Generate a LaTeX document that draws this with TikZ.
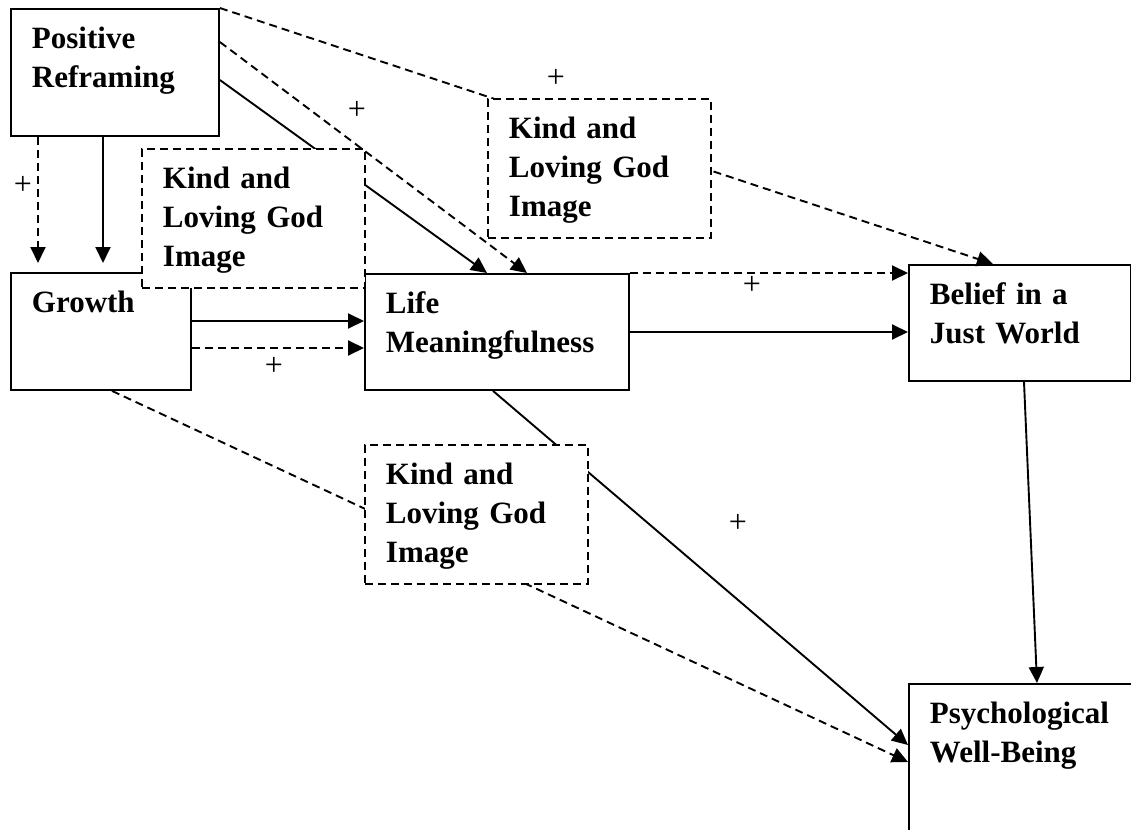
\documentclass[tikz,border=0pt]{standalone}
\usepackage{fontspec}
\setmainfont{Liberation Serif}
\usetikzlibrary{arrows.meta,positioning}

\begin{document}
\begin{tikzpicture}[x=0.5pt, y=-0.5pt, line width=0.95pt,
		box/.style 2 args={draw, anchor=north west, align=left, inner xsep=10.5pt, inner ysep=0pt,
			text width=#1, text height=20pt, text depth=#2, font=\fontsize{15.5}{19.5}\selectfont\bfseries},
		dline/.style={dash pattern=on 4pt off 2.5pt},
		mod/.style={box={90.5pt}{49.5pt}, dline, fill=white},
		arr/.style={-{Triangle[length=8pt, width=7.5pt]}},
		plus/.style={inner sep=0pt, font=\fontsize{16}{16}\selectfont}]
		\clip (0,0) rectangle (1131,830);

		\node[box={83pt}{43.5pt}] (pr) at (10,8) {Positive\\Reframing};
		\node[box={69pt}{38.5pt}] (growth) at (10,272) {Growth};
		\node[box={111pt}{38pt}] (lm) at (364,273) {Life\\Meaningfulness};
		\node[box={90pt}{38pt}] (bjw) at (908,264) {Belief in a\\Just World};
		\node[box={120pt}{80pt}] (pwb) at (908,683) {Psychological\\Well-Being};

		\draw[arr, dline, shorten >=4.5pt] ([xshift=14pt]pr.south west) -- ([xshift=14pt]growth.north west);
		\draw[arr, shorten >=4.5pt] ([xshift=46.5pt]pr.south west) -- ([xshift=46.5pt]growth.north west);
		\draw[arr] ([yshift=-36pt]pr.north east) -- ([xshift=61.5pt]lm.north west);
		\draw[arr, dline] ([yshift=-17pt]pr.north east) -- ([xshift=81.5pt]lm.north west);
		\draw[arr, dline] (pr.north east) -- ([xshift=42.5pt]bjw.north west);
		\draw[arr] ([yshift=-24.5pt]growth.north east) -- ([yshift=-24pt]lm.north west);
		\draw[arr, dline] ([yshift=-38pt]growth.north east) -- ([yshift=-37.5pt]lm.north west);
		\draw[arr, dline] (lm.north east) -- ([yshift=-4.5pt]bjw.north west);
		\draw[arr] ([yshift=-29.5pt]lm.north east) -- ([yshift=-34pt]bjw.north west);
		\draw[arr] ([xshift=58pt]bjw.south west) -- ([xshift=64.5pt]pwb.north west);
		\draw[arr] ([xshift=64.5pt]lm.south west) -- ([yshift=-31pt]pwb.north west);
		\draw[arr, dline] ([xshift=51pt]growth.south west) -- ([yshift=-39.5pt]pwb.north west);

		% moderators sit on top of the paths
		\node[mod] (m1) at (141,148) {Kind and\\Loving God\\Image};
		\node[mod] (m2) at (487,98) {Kind and\\Loving God\\Image};
		\node[mod, below=26.5pt of lm.south west, anchor=north west] (m3) {Kind and\\Loving God\\Image};

		\node[plus] (p1) at (23,185) {+};
		\node[plus] (p2) at (357,110) {+};
		\node[plus] (p3) at (556,78) {+};
		\node[plus] (p4) at (274,366) {+};
		\node[plus] (p5) at (752,285) {+};
		\node[plus] (p6) at (738,523) {+};
	\end{tikzpicture}
\end{document}
